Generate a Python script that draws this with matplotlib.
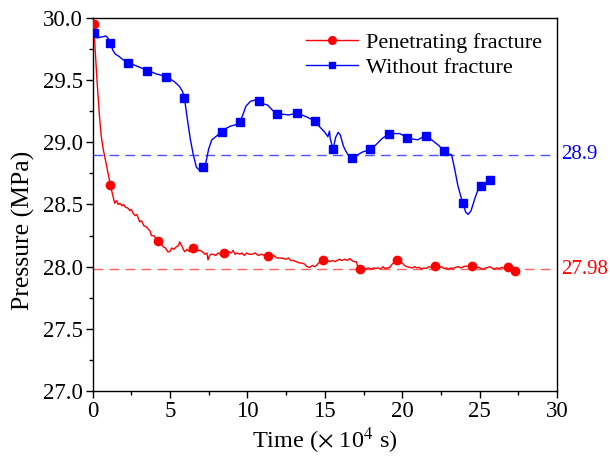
import matplotlib
matplotlib.use("Agg")
import matplotlib.pyplot as plt
from matplotlib.lines import Line2D
from matplotlib.ticker import MultipleLocator, FormatStrFormatter

plt.rcParams["font.family"] = ["Liberation Serif", "DejaVu Serif"]
plt.rcParams["mathtext.fontset"] = "stix"

# Penetrating fracture: pressure history (time in 1e4 s, pressure in MPa)
frac_t = [0.0, 0.06, 0.15, 0.28, 0.43, 0.55, 0.67, 0.85, 1.01, 1.14, 1.3, 1.42, 1.55, 1.65,
          1.75, 1.9, 2.0, 2.1, 2.28, 2.4, 2.5, 2.6, 2.75, 2.85, 3.04, 3.15, 3.3, 3.47, 3.6,
          3.7, 3.79, 3.95, 4.05, 4.22, 4.4, 4.55, 4.7, 4.85, 4.98, 5.1, 5.25, 5.4, 5.55,
          5.62, 5.75, 5.85, 5.95, 6.1, 6.25, 6.35, 6.48, 6.65, 6.8, 6.95, 7.1, 7.25, 7.38,
          7.45, 7.55, 7.65, 7.78, 7.95, 8.1, 8.25, 8.49, 8.65, 8.8, 8.95, 9.07, 9.2, 9.35,
          9.5, 9.65, 9.8, 9.94, 10.1, 10.3, 10.5, 10.7, 10.9, 11.1, 11.33, 11.5, 11.7, 11.9,
          12.1, 12.3, 12.5, 12.65, 12.8, 12.95, 13.17, 13.35, 13.5, 13.7, 13.85, 14.03, 14.2,
          14.35, 14.46, 14.6, 14.75, 14.89, 15.05, 15.2, 15.32, 15.5, 15.65, 15.8, 15.95,
          16.1, 16.3, 16.45, 16.61, 16.75, 16.9, 17.04, 17.15, 17.26, 17.4, 17.55, 17.69,
          17.85, 18.0, 18.15, 18.3, 18.45, 18.6, 18.75, 18.9, 19.05, 19.2, 19.35, 19.5,
          19.69, 19.85, 20.0, 20.15, 20.3, 20.49, 20.65, 20.8, 20.95, 21.1, 21.25, 21.4,
          21.56, 21.7, 21.85, 22.1, 22.25, 22.4, 22.55, 22.7, 22.85, 23.0, 23.15, 23.29,
          23.45, 23.6, 23.8, 23.96, 24.1, 24.3, 24.48, 24.65, 24.8, 24.95, 25.1, 25.23,
          25.4, 25.55, 25.66, 25.8, 25.95, 26.1, 26.3, 26.45, 26.6, 26.75, 26.85, 27.0,
          27.15, 27.28]
frac_p = [29.97, 29.95, 29.76, 29.49, 29.22, 29.05, 28.95, 28.84, 28.74, 28.655, 28.57, 28.51,
          28.53, 28.50, 28.51, 28.49, 28.50, 28.48, 28.47, 28.45, 28.46, 28.43, 28.41, 28.42,
          28.36, 28.37, 28.33, 28.32, 28.30, 28.29, 28.25, 28.25, 28.23, 28.205, 28.19, 28.16,
          28.15, 28.12, 28.12, 28.15, 28.14, 28.16, 28.17, 28.20, 28.17, 28.14, 28.12, 28.14,
          28.12, 28.15, 28.148, 28.14, 28.13, 28.13, 28.12, 28.10, 28.11, 28.054, 28.09,
          28.10, 28.10, 28.09, 28.11, 28.10, 28.11, 28.10, 28.12, 28.11, 28.13, 28.10, 28.11,
          28.10, 28.11, 28.09, 28.11, 28.10, 28.10, 28.11, 28.09, 28.10, 28.09, 28.086, 28.08,
          28.09, 28.07, 28.07, 28.067, 28.06, 28.07, 28.05, 28.05, 28.04, 28.03, 28.03, 28.02,
          28.00, 27.995, 28.01, 28.0, 28.01, 28.03, 28.04, 28.05, 28.04, 28.05, 28.04, 28.05,
          28.04, 28.05, 28.06, 28.05, 28.06, 28.05, 28.065, 28.05, 28.04, 28.04, 27.99, 27.98,
          27.99, 27.98, 27.985, 27.99, 27.98, 27.99, 27.985, 27.99, 27.98, 28.0, 27.985, 27.99,
          27.995, 28.02, 28.04, 28.05, 28.03, 28.03, 28.01, 28.0, 27.995, 27.99, 28.0, 27.99,
          27.995, 27.98, 27.99, 27.985, 28.0, 27.995, 28.005, 27.995, 27.99, 28.0, 27.985,
          27.99, 27.98, 27.99, 27.985, 27.995, 28.0, 27.99, 28.0, 28.005, 28.0, 28.005, 28.0,
          27.99, 27.995, 27.985, 27.98, 27.99, 27.995, 28.0, 27.99, 27.98, 27.99, 27.985,
          27.995, 27.985, 27.99, 27.995, 27.98, 27.975, 27.965]
frac_mark_t = [0.06, 1.14, 4.22, 6.48, 8.49, 11.33, 14.89, 17.26, 19.69, 22.1, 24.48, 26.85, 27.28]
frac_mark_p = [29.95, 28.655, 28.205, 28.148, 28.11, 28.086, 28.05, 27.98, 28.05, 28.005, 28.005,
               27.995, 27.965]

# Without fracture
nofrac_t = [0.0, 0.1, 0.3, 0.5, 0.7, 0.85, 1.0, 1.14, 1.3, 1.45, 1.7, 2.0, 2.31, 2.6, 2.9, 3.2,
            3.51, 3.8, 4.1, 4.4, 4.72, 5.0, 5.3, 5.6, 5.8, 5.93, 6.1, 6.3, 6.5, 6.7, 6.85, 7.0,
            7.11, 7.2, 7.3, 7.5, 7.7, 8.0, 8.34, 8.6, 8.9, 9.2, 9.5, 9.7, 9.9, 10.2, 10.5,
            10.75, 11.0, 11.3, 11.6, 11.94, 12.3, 12.7, 13.17, 13.5, 13.9, 14.35, 14.7, 15.0,
            15.2, 15.3, 15.35, 15.53, 15.7, 15.86, 16.0, 16.2, 16.35, 16.5, 16.76, 17.0, 17.4,
            17.95, 18.3, 18.7, 19.13, 19.5, 19.84, 20.0, 20.32, 20.7, 21.0, 21.3, 21.53, 21.8,
            22.1, 22.4, 22.69, 22.9, 23.19, 23.4, 23.6, 23.9, 24.1, 24.26, 24.45, 24.7, 24.9,
            25.08, 25.3, 25.66]
nofrac_p = [29.88, 29.85, 29.84, 29.845, 29.85, 29.855, 29.835, 29.80, 29.74, 29.71, 29.69,
            29.66, 29.635, 29.625, 29.61, 29.595, 29.576, 29.565, 29.55, 29.54, 29.525, 29.51,
            29.485, 29.45, 29.41, 29.354, 29.2, 29.03, 28.9, 28.8, 28.78, 28.78, 28.80, 28.77,
            28.83, 28.95, 29.02, 29.05, 29.085, 29.11, 29.13, 29.14, 29.16, 29.22, 29.29, 29.33,
            29.34, 29.335, 29.31, 29.3, 29.26, 29.225, 29.225, 29.22, 29.235, 29.22, 29.2, 29.17,
            29.12, 29.08, 29.045, 29.09, 29.03, 28.944, 29.04, 29.08, 29.06, 28.97, 28.93, 28.90,
            28.876, 28.89, 28.92, 28.944, 28.98, 29.03, 29.067, 29.07, 29.07, 29.06, 29.035,
            29.025, 29.02, 29.04, 29.05, 29.03, 29.0, 28.97, 28.93, 28.91, 28.90, 28.78, 28.65,
            28.515, 28.44, 28.42, 28.45, 28.55, 28.62, 28.65, 28.66, 28.697]
nofrac_mark_t = [0.06, 1.14, 2.31, 3.51, 4.72, 5.93, 7.11, 8.34, 9.5, 10.75, 11.94, 13.17, 14.35,
                 15.53, 16.76, 17.95, 19.13, 20.32, 21.53, 22.69, 23.9, 25.08, 25.66]
nofrac_mark_p = [29.88, 29.80, 29.635, 29.576, 29.525, 29.354, 28.80, 29.085, 29.16, 29.335,
                 29.225, 29.235, 29.17, 28.944, 28.876, 28.944, 29.067, 29.035, 29.05, 28.93,
                 28.515, 28.65, 28.697]

# Reference levels
frac_level = 27.98
nofrac_level = 28.9

red = "#ff0000"
blue = "#0000ff"

fig = plt.figure(figsize=(6.10, 4.59), dpi=100)
ax = fig.add_axes([0.152, 0.148, 0.761, 0.813])

ax.axhline(nofrac_level, color="#5050ff", lw=1.0, ls=(0, (7, 4.5)), zorder=1)
ax.axhline(frac_level, color="#ff6060", lw=1.0, ls=(0, (7, 4.5)), zorder=1)

ax.plot(frac_t, frac_p, color=red, lw=1.0, zorder=3)
ax.plot(frac_mark_t, frac_mark_p, ls="none", marker="o", ms=6, color=red, zorder=4)
ax.plot(nofrac_t, nofrac_p, color=blue, lw=1.0, zorder=3)
ax.plot(nofrac_mark_t, nofrac_mark_p, ls="none", marker="s", ms=5.3, color=blue, zorder=4)

ax.set_xlim(0, 30)
ax.set_ylim(27.0, 30.0)
ax.xaxis.set_major_locator(MultipleLocator(5))
ax.xaxis.set_minor_locator(MultipleLocator(2.5))
ax.yaxis.set_major_locator(MultipleLocator(0.5))
ax.yaxis.set_minor_locator(MultipleLocator(0.25))
ax.yaxis.set_major_formatter(FormatStrFormatter("%.1f"))
ax.tick_params(which="major", direction="out", length=5, width=1, labelsize=16.5, pad=2)
ax.tick_params(which="minor", direction="out", length=3, width=1)
for s in ax.spines.values():
    s.set_linewidth(1.0)

ax.set_xlabel(r"Time ($\times$ 10$^4$ s)", fontsize=17.5, labelpad=3)
ax.set_ylabel("Pressure (MPa)", fontsize=18.5)
ax.yaxis.set_label_coords(-0.125, 0.43)

ax.text(30.3, nofrac_level, "28.9", color=blue, fontsize=15, va="center", ha="left",
        clip_on=False)
ax.text(30.3, frac_level, "27.98", color=red, fontsize=15, va="center", ha="left",
        clip_on=False)

handles = [
    Line2D([], [], color=red, lw=1.0, marker="o", ms=5.5),
    Line2D([], [], color=blue, lw=1.0, marker="s", ms=5),
]
ax.legend(handles, ["Penetrating fracture", "Without fracture"], loc="upper right",
          frameon=False, fontsize=16, handlelength=2.3, handletextpad=0.4,
          borderaxespad=0.25, labelspacing=0.2)

fig.savefig("out.png", dpi=100)
